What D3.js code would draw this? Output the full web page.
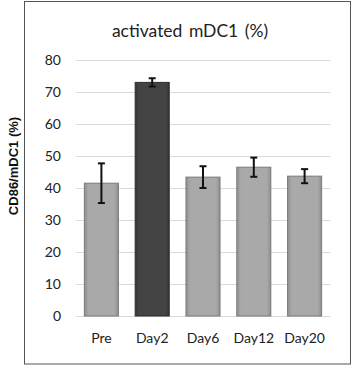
<!DOCTYPE html>
<html><head><meta charset="utf-8">
<script src="https://cdn.jsdelivr.net/npm/d3@7"></script>
<style>html,body{margin:0;padding:0;background:#fff;}</style>
</head><body>
<svg id="c" width="352" height="366"></svg>
<script>
const categories = ["Pre", "Day2", "Day6", "Day12", "Day20"];
const values = [41.5, 73.0, 43.4, 46.5, 43.7];
const errors = [6.2, 1.3, 3.4, 3.0, 2.2];
const yTicks = [0, 10, 20, 30, 40, 50, 60, 70, 80];
const titleText = "activated mDC1 (%)";
const yLabel = "CD86/mDC1 (%)";

const svg = d3.select("#c");
const font = "Lato, 'Open Sans', sans-serif";

// border
svg.append("rect").attr("x", 24.5).attr("y", 1.5).attr("width", 326).attr("height", 362.5)
  .attr("fill", "none").attr("stroke", "#555").attr("stroke-width", 1);

const defs = svg.append("defs");
const g1 = defs.append("linearGradient").attr("id", "gl").attr("x1", 0).attr("x2", 1).attr("y1", 0).attr("y2", 0);
g1.append("stop").attr("offset", "0%").attr("stop-color", "#8f8f8f");
g1.append("stop").attr("offset", "12%").attr("stop-color", "#a9a9a9");
g1.append("stop").attr("offset", "88%").attr("stop-color", "#a9a9a9");
g1.append("stop").attr("offset", "100%").attr("stop-color", "#8f8f8f");
const g2 = defs.append("linearGradient").attr("id", "gd").attr("x1", 0).attr("x2", 1).attr("y1", 0).attr("y2", 0);
g2.append("stop").attr("offset", "0%").attr("stop-color", "#333");
g2.append("stop").attr("offset", "10%").attr("stop-color", "#434343");
g2.append("stop").attr("offset", "90%").attr("stop-color", "#434343");
g2.append("stop").attr("offset", "100%").attr("stop-color", "#333");

const x = d3.scaleBand().domain(categories).range([76, 330]).paddingInner(0.31).paddingOuter(0.155);
const y = d3.scaleLinear().domain([0, 80]).range([316, 60]);

// gridlines
svg.append("g").selectAll("line").data(yTicks).join("line")
  .attr("x1", 76).attr("x2", 330)
  .attr("y1", d => Math.round(y(d)) + 0.5).attr("y2", d => Math.round(y(d)) + 0.5)
  .attr("stroke", "#d9d9d9").attr("stroke-width", 1.2);

// y axis labels
const yAxis = d3.axisLeft(y).tickValues(yTicks).tickSize(0).tickPadding(0);
const ya = svg.append("g").attr("transform", "translate(61,0)").call(yAxis);
ya.select(".domain").remove();
ya.selectAll("text").attr("font-family", font).attr("font-size", 14).attr("fill", "#222").attr("dy", "0.35em");

// bars
svg.append("g").selectAll("rect").data(values).join("rect")
  .attr("x", (d, i) => x(categories[i]) + 0.5)
  .attr("y", d => y(d))
  .attr("width", x.bandwidth() - 1)
  .attr("height", d => y(0) - y(d))
  .attr("fill", (d, i) => i === 1 ? "url(#gd)" : "url(#gl)")
  .attr("stroke", (d, i) => i === 1 ? "#2e2e2e" : "#7a7a7a").attr("stroke-width", 1);

// error bars
const eb = svg.append("g").attr("stroke", "#111").attr("stroke-width", 2);
values.forEach((v, i) => {
  const cx = x(categories[i]) + x.bandwidth() / 2;
  eb.append("line").attr("x1", cx).attr("x2", cx).attr("y1", y(v + errors[i])).attr("y2", y(v - errors[i]));
  eb.append("line").attr("x1", cx - 3.5).attr("x2", cx + 3.5).attr("y1", y(v + errors[i])).attr("y2", y(v + errors[i]));
  eb.append("line").attr("x1", cx - 3.5).attr("x2", cx + 3.5).attr("y1", y(v - errors[i])).attr("y2", y(v - errors[i]));
});

// x axis labels
const xAxis = d3.axisBottom(x).tickSize(0).tickPadding(0);
const xa = svg.append("g").attr("transform", "translate(0,338)").call(xAxis);
xa.select(".domain").remove();
xa.selectAll("text").attr("font-family", font).attr("font-size", 14).attr("fill", "#222").attr("dy", "0.35em");

// title
svg.append("text").attr("x", 190).attr("y", 37).attr("text-anchor", "middle")
  .attr("font-family", font).attr("font-size", 17.5).attr("word-spacing", 2).attr("fill", "#222").text(titleText);

// y label
svg.append("text").attr("transform", "translate(17.5,166) rotate(-90)").attr("text-anchor", "middle")
  .attr("font-family", "'Liberation Sans', Arial, sans-serif").attr("font-weight", "bold")
  .attr("font-size", 13).attr("fill", "#111").text(yLabel);
</script>
</body></html>
